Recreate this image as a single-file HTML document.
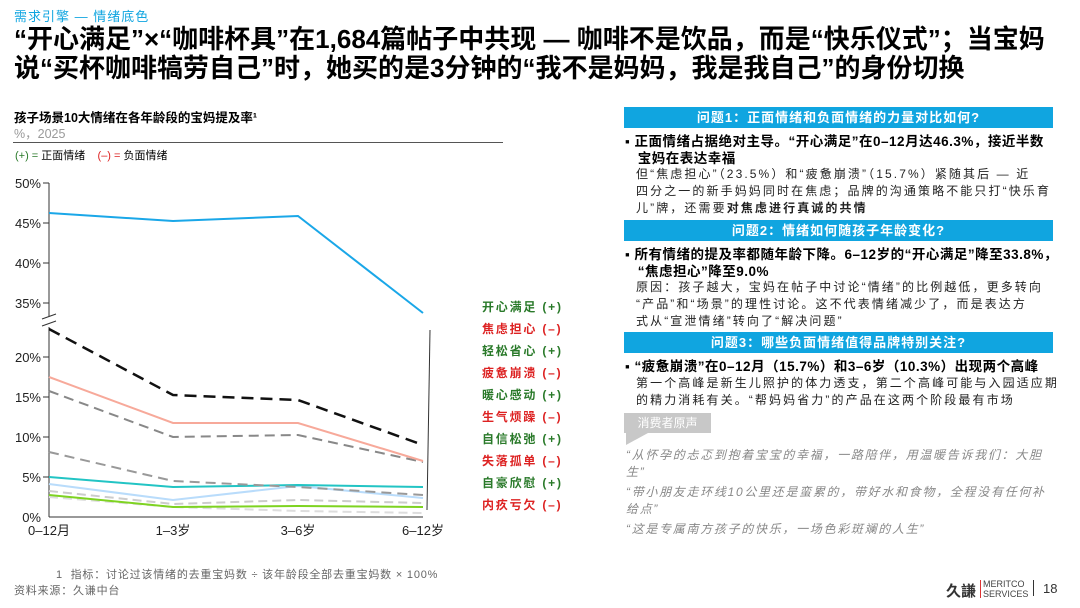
<!DOCTYPE html>
<html><head><meta charset="utf-8"><style>
body{margin:0;width:1080px;height:608px;background:#fff;font-family:"Liberation Sans","Noto Sans CJK SC",sans-serif;position:relative;overflow:hidden;color:#000}
.a{position:absolute;white-space:nowrap}
.hdr{position:absolute;left:624px;width:429px;height:21px;background:#10a5e0;color:#fff;font-size:13px;text-align:center;line-height:21px;font-weight:bold;letter-spacing:1px}
.b{font-size:13.5px;font-weight:bold;line-height:17px;letter-spacing:0.5px}
.n{font-size:12px;line-height:17px;color:#222;letter-spacing:2.1px}
.q{font-size:12px;font-style:italic;color:#888;line-height:17px;letter-spacing:1.7px}
</style></head><body>
<div class="a" style="left:14px;top:6px;font-size:13px;color:#10a5e0;letter-spacing:1px">需求引擎 — 情绪底色</div>
<div class="a" style="left:14px;top:25px;font-size:26px;font-weight:bold;line-height:29px">“开心满足”×“咖啡杯具”在1,684篇帖子中共现 — 咖啡不是饮品，而是“快乐仪式”；当宝妈<br>说“买杯咖啡犒劳自己”时，她买的是3分钟的“我不是妈妈，我是我自己”的身份切换</div>
<div class="a" style="left:14px;top:107px;font-size:12.5px;font-weight:bold">孩子场景10大情绪在各年龄段的宝妈提及率¹</div>
<div class="a" style="left:14px;top:123px;font-size:12.5px;color:#999">%，2025</div>
<div class="a" style="left:13px;top:142px;width:490px;border-top:1px solid #555"></div>
<div class="a" style="left:15px;top:147px;font-size:11px"><span style="color:#2a7a2a">(+) = </span>正面情绪 &nbsp; &nbsp;<span style="color:#d22">(–) = </span>负面情绪</div>
<svg class="a" style="left:0;top:0" width="600" height="608">
<g font-size="13" fill="#222" text-anchor="end" font-family="Liberation Sans">
<text x="41" y="188">50%</text><text x="41" y="228">45%</text><text x="41" y="268">40%</text><text x="41" y="308">35%</text>
<text x="41" y="362">20%</text><text x="41" y="402">15%</text><text x="41" y="442">10%</text><text x="41" y="482">5%</text><text x="41" y="522">0%</text>
</g>
<g stroke="#333" stroke-width="1"><line x1="49" y1="183" x2="49" y2="317"/><line x1="49" y1="327" x2="49" y2="517"/><line x1="49" y1="517" x2="423" y2="517"/>
<line x1="43" y1="183" x2="49" y2="183"/><line x1="43" y1="223" x2="49" y2="223"/><line x1="43" y1="263" x2="49" y2="263"/><line x1="43" y1="303" x2="49" y2="303"/>
<line x1="43" y1="357" x2="49" y2="357"/><line x1="43" y1="397" x2="49" y2="397"/><line x1="43" y1="437" x2="49" y2="437"/><line x1="43" y1="477" x2="49" y2="477"/>
<line x1="42" y1="319" x2="56" y2="314"/><line x1="42" y1="326" x2="56" y2="321"/>
<line x1="430" y1="330" x2="427" y2="510"/></g>
<g fill="none" stroke-width="2">
<polyline points="49,213 173,221 298,216 423,313" stroke="#1aa7e8"/>
<polyline points="49,497 173,507 298,511 423,513" stroke="#ddd" stroke-dasharray="9,5"/>
<polyline points="49,491 173,504 298,500 423,503" stroke="#ccc" stroke-dasharray="9,5"/>
<polyline points="49,495 173,507 298,506 423,507" stroke="#7ed321"/>
<polyline points="49,484 173,500 298,486 423,498" stroke="#b9dcfb"/>
<polyline points="49,477 173,487 298,485 423,487" stroke="#22c4c4"/>
<polyline points="49,452 173,481 298,487 423,495" stroke="#999" stroke-dasharray="10,6"/>
<polyline points="49,391 173,437 298,435 423,462" stroke="#888" stroke-dasharray="10,6"/>
<polyline points="49,377 173,423 298,423 423,461" stroke="#f7a99a"/>
<polyline points="49,329 173,395 298,400 423,445" stroke="#111" stroke-width="2.5" stroke-dasharray="12,7"/>
</g>
<g font-size="13" fill="#222" text-anchor="middle"><text x="49" y="535">0–12月</text><text x="173" y="535">1–3岁</text><text x="298" y="535">3–6岁</text><text x="423" y="535">6–12岁</text></g>
<g font-size="12" font-weight="bold" letter-spacing="1.8">
<text x="482" y="311" fill="#2a7a2a">开心满足 (+)</text>
<text x="482" y="333" fill="#d22">焦虑担心 (–)</text>
<text x="482" y="355" fill="#2a7a2a">轻松省心 (+)</text>
<text x="482" y="377" fill="#d22">疲惫崩溃 (–)</text>
<text x="482" y="399" fill="#2a7a2a">暖心感动 (+)</text>
<text x="482" y="421" fill="#d22">生气烦躁 (–)</text>
<text x="482" y="443" fill="#2a7a2a">自信松弛 (+)</text>
<text x="482" y="465" fill="#d22">失落孤单 (–)</text>
<text x="482" y="487" fill="#2a7a2a">自豪欣慰 (+)</text>
<text x="482" y="509" fill="#d22">内疚亏欠 (–)</text>
</g>
</svg>
<div class="a" style="left:56px;top:566px;font-size:11px;color:#666;letter-spacing:0.8px">1 &nbsp;指标：讨论过该情绪的去重宝妈数 ÷ 该年龄段全部去重宝妈数 × 100%</div>
<div class="a" style="left:14px;top:582px;font-size:11px;color:#666;letter-spacing:0.8px">资料来源：久谦中台</div>

<div class="hdr" style="top:107px">问题1：正面情绪和负面情绪的力量对比如何?</div>
<div class="a b" style="left:625px;top:133px">▪ 正面情绪占据绝对主导。“开心满足”在0–12月达46.3%，接近半数<br>&nbsp;&nbsp;&nbsp;宝妈在表达幸福</div>
<div class="a n" style="left:636px;top:166px">但“焦虑担心”（23.5%）和“疲惫崩溃”（15.7%）紧随其后 — 近<br>四分之一的新手妈妈同时在焦虑；品牌的沟通策略不能只打“快乐育<br>儿”牌，还需要<b>对焦虑进行真诚的共情</b></div>
<div class="hdr" style="top:220px">问题2：情绪如何随孩子年龄变化?</div>
<div class="a b" style="left:625px;top:246px">▪ 所有情绪的提及率都随年龄下降。6–12岁的“开心满足”降至33.8%，<br>&nbsp;&nbsp;&nbsp;“焦虑担心”降至9.0%</div>
<div class="a n" style="left:636px;top:279px">原因：孩子越大，宝妈在帖子中讨论“情绪”的比例越低，更多转向<br>“产品”和“场景”的理性讨论。这不代表情绪减少了，而是表达方<br>式从“宣泄情绪”转向了“解决问题”</div>
<div class="hdr" style="top:332px">问题3：哪些负面情绪值得品牌特别关注?</div>
<div class="a b" style="left:625px;top:358px">▪ “疲惫崩溃”在0–12月（15.7%）和3–6岁（10.3%）出现两个高峰</div>
<div class="a n" style="left:636px;top:375px">第一个高峰是新生儿照护的体力透支，第二个高峰可能与入园适应期<br>的精力消耗有关。“帮妈妈省力”的产品在这两个阶段最有市场</div>
<div class="a" style="left:624px;top:413px;width:87px;height:20px;background:#c8c8c8;color:#fff;font-size:12px;line-height:20px;text-align:center">消费者原声</div>
<div class="a" style="left:626px;top:433px;width:0;height:0;border-top:12px solid #c8c8c8;border-right:22px solid transparent"></div>
<div class="a q" style="left:626px;top:447px">“从怀孕的忐忑到抱着宝宝的幸福，一路陪伴，用温暖告诉我们：大胆<br>生”</div>
<div class="a q" style="left:626px;top:484px">“带小朋友走环线10公里还是蛮累的，带好水和食物，全程没有任何补<br>给点”</div>
<div class="a q" style="left:626px;top:521px">“这是专属南方孩子的快乐，一场色彩斑斓的人生”</div>
<div class="a" style="left:946px;top:580px;font-size:15px;font-weight:bold;color:#333">久謙</div>
<div class="a" style="left:980px;top:580px;border-left:1px solid #d33;height:18px"></div>
<div class="a" style="left:983px;top:579px;font-size:9px;line-height:10px;color:#444">MERITCO<br>SERVICES</div>
<div class="a" style="left:1033px;top:580px;border-left:1px solid #333;height:16px"></div>
<div class="a" style="left:1043px;top:581px;font-size:13px;color:#333">18</div>
</body></html>
